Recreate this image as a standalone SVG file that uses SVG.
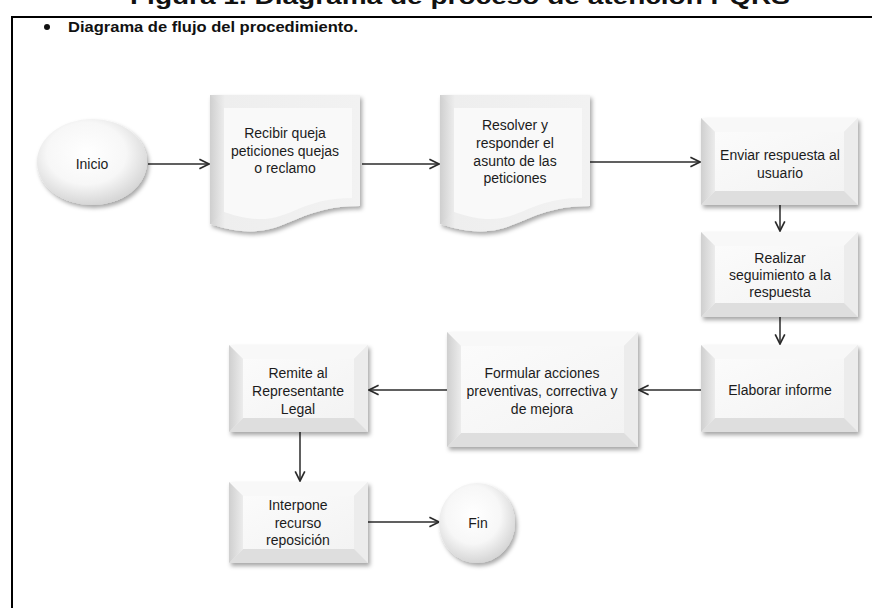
<svg xmlns="http://www.w3.org/2000/svg" width="872" height="608" viewBox="0 0 872 608">
<style>
  .t{font-family:"Liberation Sans",Arial,sans-serif;font-size:14px;fill:#1c1c1c;text-anchor:middle}
  .title{font-family:"Liberation Sans",Arial,sans-serif;font-size:14px;font-weight:bold;fill:#111}
  .clip{font-family:"Liberation Sans",Arial,sans-serif;font-size:22px;font-weight:bold;fill:#111}
  .conn{fill:none;stroke:#2b2b2b;stroke-width:1.5;marker-end:url(#arr)}
  .frame{stroke:#000;stroke-width:2;fill:none}
  .bl{fill:url(#gLeft)}
  .bt{fill:#f8f8f8}
  .br{fill:#ececec}
  .bb{fill:#dedede}
  .face{fill:url(#gFace)}
  .outer{fill:#eeeeee;filter:url(#sh)}
</style>
<defs>
  <marker id="arr" viewBox="0 0 10 10" refX="9" refY="5" markerWidth="12" markerHeight="12" markerUnits="userSpaceOnUse" orient="auto">
    <path d="M1,1 L9,5 L1,9" fill="none" stroke="#2b2b2b" stroke-width="1.4"/>
  </marker>
  <linearGradient id="gLeft" x1="0" y1="0" x2="1" y2="0">
    <stop offset="0" stop-color="#cfcfcf"/>
    <stop offset="1" stop-color="#ececec"/>
  </linearGradient>
  <linearGradient id="gFace" x1="0" y1="0" x2="1" y2="1">
    <stop offset="0" stop-color="#fbfbfb"/>
    <stop offset="1" stop-color="#f3f3f3"/>
  </linearGradient>
  <linearGradient id="gDoc" x1="0" y1="0" x2="1" y2="0">
    <stop offset="0" stop-color="#d2d2d2"/>
    <stop offset="0.1" stop-color="#eeeeee"/>
    <stop offset="1" stop-color="#f2f2f2"/>
  </linearGradient>
  <radialGradient id="gEll" cx="0.45" cy="0.4" r="0.6">
    <stop offset="0" stop-color="#ffffff"/>
    <stop offset="0.6" stop-color="#f7f7f7"/>
    <stop offset="1" stop-color="#d6d6d6"/>
  </radialGradient>
  <filter id="sh" x="-10%" y="-10%" width="125%" height="130%">
    <feDropShadow dx="2" dy="3" stdDeviation="2" flood-color="#000" flood-opacity="0.35"/>
  </filter>
  <clipPath id="topClip"><rect x="0" y="0" width="872" height="16"/></clipPath>
</defs>

<g id="page">
  <text class="clip" x="130" y="4" textLength="660" lengthAdjust="spacingAndGlyphs" clip-path="url(#topClip)">Figura 1. Diagrama de proceso de atención PQRS</text>
  <path class="frame" d="M12,608 V17 H872"/>
  <circle cx="47" cy="27" r="3" fill="#111"/>
  <text class="title" x="68" y="32" textLength="290" lengthAdjust="spacingAndGlyphs">Diagrama de flujo del procedimiento.</text>
</g>

<g id="connectors">
  <path class="conn" d="M148,164 H209"/>
  <path class="conn" d="M362,164 H439"/>
  <path class="conn" d="M590,162 H700"/>
  <path class="conn" d="M780,205 V231"/>
  <path class="conn" d="M780,317 V344"/>
  <path class="conn" d="M701,390 H639"/>
  <path class="conn" d="M447,390 H369"/>
  <path class="conn" d="M300,432 V481"/>
  <path class="conn" d="M368,522 H439"/>
</g>

<g id="inicio">
  <ellipse cx="92" cy="162" rx="55" ry="43" fill="url(#gEll)" filter="url(#sh)"/>
  <text class="t" x="92" y="169">Inicio</text>
</g>

<g id="recibir">
  <path d="M210,95 H360 V206 C285,206 285,248 210,224 Z" fill="url(#gDoc)" filter="url(#sh)"/>
  <path d="M224,108 H352 V198 C288,198 288,234 224,212 Z" fill="#f9f9f9"/>
  <path d="M210,95 L224,108 V212 L210,224 Z" fill="url(#gLeft)"/>
  <text class="t" x="285" y="138">Recibir queja</text>
  <text class="t" x="285" y="156">peticiones quejas</text>
  <text class="t" x="285" y="173">o reclamo</text>
</g>

<g id="resolver">
  <path d="M440,95 H590 V206 C515,206 515,248 440,224 Z" fill="url(#gDoc)" filter="url(#sh)"/>
  <path d="M454,108 H582 V198 C518,198 518,234 454,212 Z" fill="#f9f9f9"/>
  <path d="M440,95 L454,108 V212 L440,224 Z" fill="url(#gLeft)"/>
  <text class="t" x="515" y="130">Resolver y</text>
  <text class="t" x="515" y="148">responder el</text>
  <text class="t" x="515" y="166">asunto de las</text>
  <text class="t" x="515" y="183">peticiones</text>
</g>

<g id="enviar">
  <rect class="outer" x="701" y="118" width="157" height="87"/>
  <polygon class="bt" points="701,118 858,118 844,132 715,132"/>
  <polygon class="br" points="858,118 858,205 844,191 844,132"/>
  <polygon class="bb" points="701,205 715,191 844,191 858,205"/>
  <polygon class="bl" points="701,118 715,132 715,191 701,205"/>
  <rect class="face" x="715" y="132" width="129" height="59"/>
  <text class="t" x="780" y="160">Enviar respuesta al</text>
  <text class="t" x="780" y="178">usuario</text>
</g>

<g id="realizar">
  <rect class="outer" x="701" y="232" width="157" height="85"/>
  <polygon class="bt" points="701,232 858,232 844,246 715,246"/>
  <polygon class="br" points="858,232 858,317 844,303 844,246"/>
  <polygon class="bb" points="701,317 715,303 844,303 858,317"/>
  <polygon class="bl" points="701,232 715,246 715,303 701,317"/>
  <rect class="face" x="715" y="246" width="129" height="57"/>
  <text class="t" x="780" y="263">Realizar</text>
  <text class="t" x="780" y="280">seguimiento a la</text>
  <text class="t" x="780" y="297">respuesta</text>
</g>

<g id="elaborar">
  <rect class="outer" x="701" y="345" width="157" height="87"/>
  <polygon class="bt" points="701,345 858,345 844,359 715,359"/>
  <polygon class="br" points="858,345 858,432 844,418 844,359"/>
  <polygon class="bb" points="701,432 715,418 844,418 858,432"/>
  <polygon class="bl" points="701,345 715,359 715,418 701,432"/>
  <rect class="face" x="715" y="359" width="129" height="59"/>
  <text class="t" x="780" y="395">Elaborar informe</text>
</g>

<g id="formular">
  <rect class="outer" x="447" y="332" width="191" height="115"/>
  <polygon class="bt" points="447,332 638,332 624,346 461,346"/>
  <polygon class="br" points="638,332 638,447 624,433 624,346"/>
  <polygon class="bb" points="447,447 461,433 624,433 638,447"/>
  <polygon class="bl" points="447,332 461,346 461,433 447,447"/>
  <rect class="face" x="461" y="346" width="163" height="87"/>
  <text class="t" x="542" y="378">Formular acciones</text>
  <text class="t" x="542" y="396">preventivas, correctiva y</text>
  <text class="t" x="542" y="414">de mejora</text>
</g>

<g id="remite">
  <rect class="outer" x="229" y="345" width="139" height="87"/>
  <polygon class="bt" points="229,345 368,345 354,359 243,359"/>
  <polygon class="br" points="368,345 368,432 354,418 354,359"/>
  <polygon class="bb" points="229,432 243,418 354,418 368,432"/>
  <polygon class="bl" points="229,345 243,359 243,418 229,432"/>
  <rect class="face" x="243" y="359" width="111" height="59"/>
  <text class="t" x="298" y="378">Remite al</text>
  <text class="t" x="298" y="396">Representante</text>
  <text class="t" x="298" y="414">Legal</text>
</g>

<g id="interpone">
  <rect class="outer" x="229" y="482" width="139" height="81"/>
  <polygon class="bt" points="229,482 368,482 354,496 243,496"/>
  <polygon class="br" points="368,482 368,563 354,549 354,496"/>
  <polygon class="bb" points="229,563 243,549 354,549 368,563"/>
  <polygon class="bl" points="229,482 243,496 243,549 229,563"/>
  <rect class="face" x="243" y="496" width="111" height="53"/>
  <text class="t" x="298" y="510">Interpone</text>
  <text class="t" x="298" y="528">recurso</text>
  <text class="t" x="298" y="545">reposición</text>
</g>

<g id="fin">
  <ellipse cx="477" cy="523" rx="38" ry="40" fill="url(#gEll)" filter="url(#sh)"/>
  <text class="t" x="478" y="528">Fin</text>
</g>
</svg>
